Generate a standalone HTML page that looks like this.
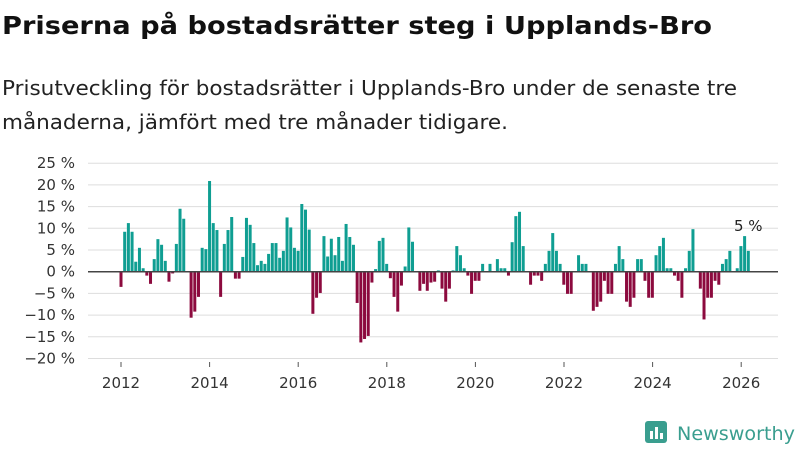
<!DOCTYPE html>
<html><head><meta charset="utf-8"><style>
body{margin:0;background:#fff;}
svg{display:block;font-family:"DejaVu Sans","Liberation Sans",sans-serif;}
</style></head><body>
<svg id="c" width="800" height="450">
<text x="2" y="34" font-size="25" font-weight="bold" fill="#111" textLength="710" lengthAdjust="spacingAndGlyphs">Priserna på bostadsrätter steg i Upplands-Bro</text>
<text x="2" y="95" font-size="20" fill="#222" textLength="735" lengthAdjust="spacingAndGlyphs">Prisutveckling för bostadsrätter i Upplands-Bro under de senaste tre</text>
<text x="2" y="129" font-size="20" fill="#222" textLength="506" lengthAdjust="spacingAndGlyphs">månaderna, jämfört med tre månader tidigare.</text>
<g id="grid"></g><g id="bars"></g><g id="axes"></g>
<g>
<rect x="645" y="421" width="22" height="22" rx="3" fill="#3a9e8f"/>
<rect x="650" y="431" width="3" height="8" fill="#fff"/><rect x="655" y="427" width="3" height="12" fill="#fff"/><rect x="660" y="433" width="3" height="6" fill="#fff"/>
<text x="677" y="440" font-size="19" fill="#3a9e8f" textLength="118" lengthAdjust="spacingAndGlyphs">Newsworthy</text>
</g>
</svg>
<script>
const startYear = 2012;
const values = [-3.5,9.2,11.2,9.2,2.3,5.5,0.8,-0.9,-2.8,2.9,7.5,6.2,2.5,-2.3,-0.4,6.4,14.5,12.2,0,-10.6,-9.2,-5.8,5.5,5.2,20.9,11.2,9.6,-5.8,6.4,9.6,12.6,-1.6,-1.6,3.4,12.4,10.8,6.6,1.5,2.5,1.8,4.1,6.6,6.6,3.2,4.8,12.5,10.2,5.5,4.8,15.6,14.3,9.7,-9.7,-6.0,-4.9,8.2,3.5,7.6,3.8,8.0,2.5,11,8.0,6.2,-7.2,-16.3,-15.5,-14.8,-2.5,0.6,7.1,7.8,1.8,-1.5,-5.8,-9.2,-3.2,1.2,10.2,6.9,0,-4.4,-2.8,-4.4,-2.5,-2.3,0.3,-3.9,-6.9,-3.9,0.3,5.9,3.8,0.8,-0.9,-5.1,-2.1,-2.1,1.8,0,1.8,0,2.9,0.8,0.8,-0.9,6.8,12.8,13.8,5.9,0,-3.0,-0.9,-0.9,-2.1,1.8,4.8,8.9,4.8,1.8,-3.0,-5.1,-5.1,0,3.8,1.8,1.8,0,-9.0,-8.1,-6.9,-2.1,-5.1,-5.1,1.8,5.9,2.9,-6.9,-8.1,-6.0,2.9,2.9,-2.1,-6.0,-6.0,3.8,5.9,7.8,0.8,0.8,-0.9,-2.1,-6.0,0.8,4.8,9.8,0,-3.9,-11,-6.0,-6.0,-2.1,-3.0,1.8,2.9,4.8,0,0.8,5.9,8.2,4.8];
const yTicks = [25,20,15,10,5,0,-5,-10,-15,-20];
const xTicks = [2012,2014,2016,2018,2020,2022,2024,2026];
const lastLabel = "5 %";
const NS="http://www.w3.org/2000/svg";
const y = v => 271.7 - v*4.34;
const xm = i => 121 + i*3.69;
const xy = yr => 121 + (yr-startYear)*44.3;
function el(t,a,p){const e=document.createElementNS(NS,t);for(const k in a)e.setAttribute(k,a[k]);document.getElementById(p).appendChild(e);return e;}
yTicks.forEach(t=>{
  if(t!==0){const l=el('line',{x1:88,x2:778,y1:y(t),y2:y(t),stroke:'#dddddd','stroke-width':1},'grid');
  
  }
  const tx=el('text',{x:75,y:y(t)+5,'font-size':15,fill:'#333','text-anchor':'end'},'axes');
  tx.textContent=(t<0?'−'+(-t):t)+' %';
  
  
});
values.forEach((v,i)=>{
  const r=el('rect',{x:xm(i)-1.5,width:3,y:Math.min(y(v),y(0)),height:Math.abs(y(v)-y(0)),fill:v>=0?'#0f9e92':'#8c0a3e'},'bars');
  
  
});
const z=el('line',{x1:88,x2:778,y1:y(0),y2:y(0),stroke:'#444','stroke-width':1.5},'axes');


xTicks.forEach(yr=>{
  const tk=el('line',{x1:xy(yr),x2:xy(yr),y1:362,y2:367,stroke:'#555'},'axes');
  
  
  const t=el('text',{x:xy(yr),y:388,'font-size':15,fill:'#333','text-anchor':'middle'},'axes');
  t.textContent=yr;
  
  
});
const li=values.length-1;
const lab=el('text',{x:xm(li),y:y(values[li])-20,'font-size':15,fill:'#222','text-anchor':'middle'},'axes');
lab.textContent=lastLabel;


</script>
</body></html>
